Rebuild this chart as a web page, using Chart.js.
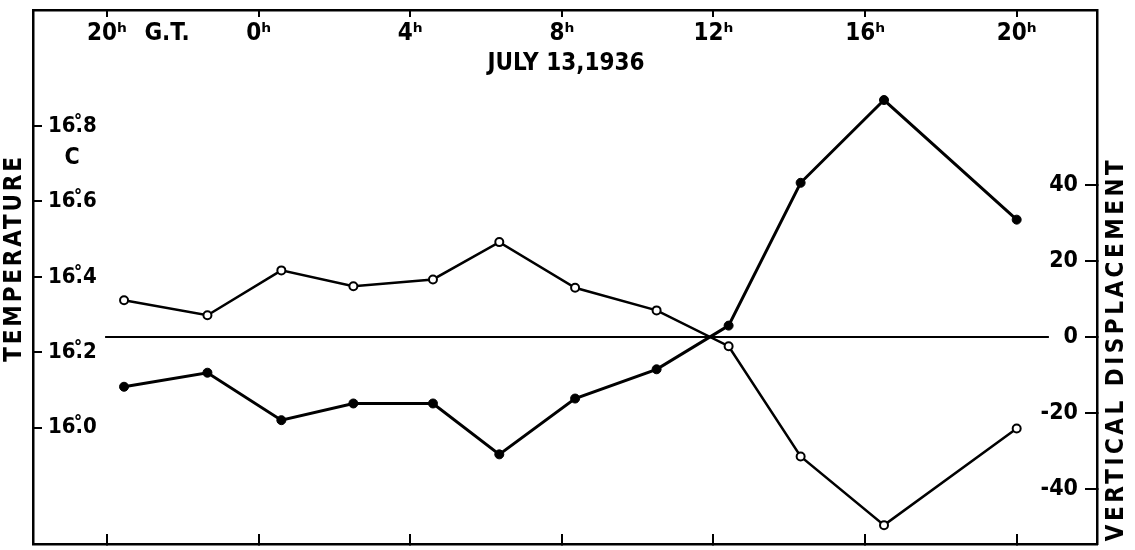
<!DOCTYPE html>
<html>
<head>
<meta charset="utf-8">
<script src="https://cdn.jsdelivr.net/npm/chart.js"></script>
<style>
  html, body { margin: 0; padding: 0; background: #fff; }
  #wrap { width: 1135px; height: 550px; }
</style>
</head>
<body>
<div id="wrap"><canvas id="chart"></canvas></div>
<script>
// time of each observation, hours from 0h G.T. July 13 (negative = July 12)
const hours = [-3.55, -1.35, 0.6, 2.5, 4.6, 6.35, 8.35, 10.5, 12.4, 14.3, 16.5, 20.0];
// open circles, left axis (deg C)
const temperature = [16.338, 16.298, 16.417, 16.375, 16.393, 16.492, 16.371, 16.311, 16.216, 15.924, 15.742, 15.998];
// filled dots, right axis
const displacement = [-13.1, -9.4, -21.9, -17.5, -17.5, -30.9, -16.2, -8.5, 3.0, 40.6, 62.4, 30.9];

const hourTicks = [-4, 0, 4, 8, 12, 16, 20];
const hourLabels = ["20ʰ", "0ʰ", "4ʰ", "8ʰ", "12ʰ", "16ʰ", "20ʰ"];
const tempTicks = [16.0, 16.2, 16.4, 16.6, 16.8];
const tempLabels = ["16.\u030A0", "16.\u030A2", "16.\u030A4", "16.\u030A6", "16.\u030A8"];
const dispTicks = [-40, -20, 0, 20, 40];
const dispLabels = ["-40", "-20", "0", "20", "40"];
// extent of the zero reference line (hours)
const zeroLine = [-4.05, 20.85];

const FONT = "'DejaVu Sans Condensed', 'DejaVu Sans', sans-serif";
Chart.defaults.font.family = FONT;
Chart.defaults.color = "#000";

function toPoints(xs, ys) {
  return xs.map((x, i) => ({ x: x, y: ys[i] }));
}

function fixTicks(values) {
  return function (scale) {
    scale.ticks = values.map((v) => ({ value: v }));
  };
}

function fixSize(w, h) {
  return function (scale) {
    if (w !== null) scale.width = w;
    if (h !== null) scale.height = h;
    scale.paddingTop = 0;
    scale.paddingBottom = 0;
    scale.paddingLeft = 0;
    scale.paddingRight = 0;
  };
}

// titles and notes written on the figure
const notes = {
  id: "notes",
  afterDraw(chart) {
    const ctx = chart.ctx;
    ctx.save();
    ctx.fillStyle = "#000";
    ctx.textBaseline = "middle";
    ctx.textAlign = "center";
    ctx.font = "bold 24px " + FONT;
    ctx.fillText("G.T.", 167, 34);
    ctx.fillText("JULY 13,1936", 566, 64);
    ctx.font = "bold 23px " + FONT;
    ctx.fillText("C", 72, 158);

    ctx.font = "bold 24px " + FONT;
    ctx.letterSpacing = "2.8px";
    ctx.translate(15, 258);
    ctx.rotate(-Math.PI / 2);
    ctx.fillText("TEMPERATURE", 0, 0);
    ctx.restore();

    ctx.save();
    ctx.fillStyle = "#000";
    ctx.textBaseline = "middle";
    ctx.textAlign = "center";
    ctx.font = "bold 24px " + FONT;
    ctx.letterSpacing = "3.5px";
    ctx.translate(1117, 349);
    ctx.rotate(-Math.PI / 2);
    ctx.fillText("VERTICAL DISPLACEMENT", 0, 0);
    ctx.restore();
  },
};

const edge = { display: true, color: "#000", width: 2.5 };

new Chart(document.getElementById("chart"), {
  type: "line",
  data: {
    datasets: [
      {
        label: "Temperature",
        data: toPoints(hours, temperature),
        xAxisID: "x",
        yAxisID: "yT",
        borderColor: "#000",
        borderWidth: 2.5,
        pointRadius: 4,
        pointBorderWidth: 2,
        pointBackgroundColor: "#fff",
        pointBorderColor: "#000",
        tension: 0,
      },
      {
        label: "Vertical displacement",
        data: toPoints(hours, displacement),
        xAxisID: "x",
        yAxisID: "yD",
        borderColor: "#000",
        borderWidth: 3,
        pointRadius: 4.5,
        pointBorderWidth: 1,
        pointBackgroundColor: "#000",
        pointBorderColor: "#000",
        tension: 0,
      },
      {
        label: "zero",
        data: toPoints(zeroLine, [0, 0]),
        xAxisID: "x",
        yAxisID: "yD",
        borderColor: "#000",
        borderWidth: 2,
        pointRadius: 0,
      },
    ],
  },
  options: {
    responsive: true,
    maintainAspectRatio: false,
    animation: false,
    layout: { padding: 0 },
    plugins: {
      legend: { display: false },
      tooltip: { enabled: false },
    },
    scales: {
      x: {
        type: "linear",
        position: "bottom",
        min: -5.952,
        max: 22.119,
        afterBuildTicks: fixTicks(hourTicks),
        afterFit: fixSize(null, 5),
        border: edge,
        grid: { drawOnChartArea: false, tickLength: -10, color: "#000", lineWidth: 2 },
        ticks: { display: false },
      },
      xTop: {
        type: "linear",
        position: "top",
        min: -5.952,
        max: 22.119,
        afterBuildTicks: fixTicks(hourTicks),
        afterFit: fixSize(null, 10),
        border: edge,
        grid: { drawOnChartArea: false, tickLength: -7, color: "#000", lineWidth: 2 },
        ticks: {
          mirror: true,
          padding: 9,
          maxRotation: 0,
          autoSkip: false,
          font: { size: 24, weight: "bold" },
          callback: (v, i) => hourLabels[i],
        },
      },
      yT: {
        type: "linear",
        position: "left",
        min: 15.692,
        max: 17.107,
        afterBuildTicks: fixTicks(tempTicks),
        afterFit: fixSize(33, null),
        border: edge,
        grid: { drawOnChartArea: false, tickLength: -9, color: "#000", lineWidth: 2 },
        ticks: {
          mirror: true,
          padding: 15,
          autoSkip: false,
          font: { size: 22, weight: "bold" },
          callback: (v, i) => tempLabels[i],
        },
      },
      yD: {
        type: "linear",
        position: "right",
        min: -54.5,
        max: 86.1,
        afterBuildTicks: fixTicks(dispTicks),
        afterFit: fixSize(38, null),
        border: edge,
        grid: { drawOnChartArea: false, tickLength: -12, color: "#000", lineWidth: 2 },
        ticks: {
          mirror: true,
          padding: -19,
          autoSkip: false,
          font: { size: 23, weight: "bold" },
          callback: (v, i) => dispLabels[i],
        },
      },
    },
  },
  plugins: [notes],
});
</script>
</body>
</html>
